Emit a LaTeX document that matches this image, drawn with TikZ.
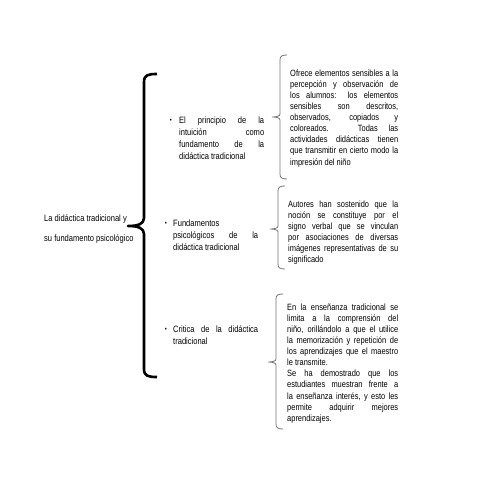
\documentclass[tikz,border=0pt]{standalone}
\usepackage{fontspec}
\setmainfont{Liberation Sans}[FakeStretch=0.82]
\usetikzlibrary{positioning}
\hyphenpenalty=10000
\exhyphenpenalty=10000
\def\sidebrace[#1](#2:#3:#4:#5){\draw[#1] ({#2+7},{#3-1}) .. controls ({#2+2},{#3-1}) and (#2,{#3}) .. (#2,{#3+4}) -- (#2,{#4-3}) .. controls (#2,{#4-1}) and ({#2-3},#4) .. ({#2-8},#4) .. controls ({#2-3},#4) and (#2,{#4+1}) .. (#2,{#4+3}) -- (#2,{#5-4}) .. controls (#2,#5) and ({#2+2},{#5+1}) .. ({#2+7},{#5+1});}

\begin{document}
\begin{tikzpicture}[x=1pt,y=-1pt,
	bigbrace/.style={line width=2.6pt, line join=round},
	thinbrace/.style={line width=0.8pt, color=black!55},
	note/.style={anchor=north west, inner sep=0pt, text width=#1, align=justify,
		font=\fontsize{9.1}{11.1}\selectfont},
	item/.style={anchor=north west, inner sep=0pt, text width=85pt, align=justify,
		font=\fontsize{9.2}{12.2}\selectfont},
	dot/.style={inner sep=0pt, font=\fontsize{7}{7}\selectfont}]
		%%%%% START %%%%%
		\useasboundingbox (0,0) rectangle (495,495);
		
		\node[anchor=north west, inner sep=0pt, align=left, font=\fontsize{9.2}{20.5}\selectfont] (title) at (44,214.5) {La didáctica tradicional y\\su fundamento psicológico};
		
		\draw[bigbrace] (157,74) .. controls (148,74) and (144,75) .. (144,82) -- (144,218) .. controls (144,224) and (138,226) .. (128,226) .. controls (138,226) and (144,228) .. (144,234) -- (144,369) .. controls (144,376) and (148,377) .. (157,377);
		
		\node[dot] (b1) at (171,121) {\textbullet};
		\node[item] (principio) at (179,116.5) {El principio de la\linebreak intuición como\linebreak fundamento de la\linebreak didáctica tradicional};
		
		\node[dot] (b2) at (166,224) {\textbullet};
		\node[item] (fundamentos) at (173,219.5) {Fundamentos\\ psicológicos de la\linebreak didáctica tradicional};
		
		\node[dot] (b3) at (166,330) {\textbullet};
		\node[item] (critica) at (173,325.5) {Critica de la didáctica\linebreak tradicional};
		
		\sidebrace[thinbrace](280:56:117:178)
		\node[note=108pt] (ofrece) at (290,69.5) {Ofrece elementos sensibles a la\linebreak percepción y observación de\linebreak los alumnos: los elementos\linebreak sensibles son descritos,\linebreak observados, copiados y\linebreak coloreados. Todas las\linebreak actividades didácticas tienen\linebreak que transmitir en cierto modo la\linebreak impresión del niño};
		
		\sidebrace[thinbrace](278:187:229:268)
		\node[note=110pt] (autores) at (288,200.5) {Autores han sostenido que la\linebreak noción se constituye por el\linebreak signo verbal que se vinculan\linebreak por asociaciones de diversas\linebreak imágenes representativas de su\linebreak significado};
		
		\sidebrace[thinbrace](276:295:362:428)
		\node[note=111pt] (ensenanza) at (287,303.5) {En la enseñanza tradicional se\linebreak limita a la comprensión del\linebreak niño, orillándolo a que el utilice\linebreak la memorización y repetición de\linebreak los aprendizajes que el maestro\linebreak le transmite.\\ Se ha demostrado que los\linebreak estudiantes muestran frente a\linebreak la enseñanza interés, y esto les\linebreak permite adquirir mejores\linebreak aprendizajes.};
		
		%%%%% END %%%%%
	\end{tikzpicture}
\end{document}
